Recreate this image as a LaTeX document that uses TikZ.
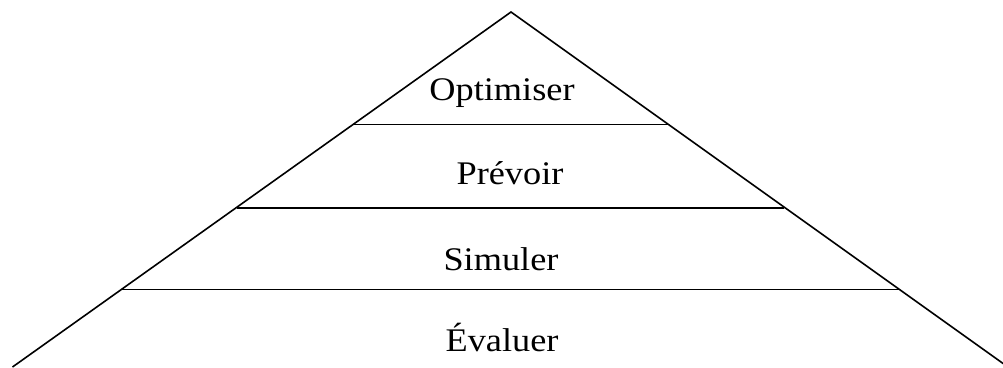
\documentclass[tikz,border=0pt]{standalone}
\usepackage{fontspec}
\setmainfont{Liberation Serif}
\begin{document}
\begin{tikzpicture}[x=1pt,y=-1pt,
  edge/.style={line width=1.6pt,line join=miter},
  label/.style={anchor=base,inner sep=0pt,xscale=1.1,font=\fontsize{33}{40}\selectfont}]
\useasboundingbox (0,0) rectangle (1003,367);
\clip (0,0) rectangle (1003,367);
\coordinate (apex) at (511,12);
\coordinate (bl) at (12.5,367);
\coordinate (br) at (1008,367);
\coordinate (l1) at (352,124.5); \coordinate (r1) at (669,124.5);
\coordinate (l2) at (237,207.7); \coordinate (r2) at (784,207.7);
\coordinate (l3) at (122,289.3); \coordinate (r3) at (899,289.3);
\draw[edge] (bl) -- (apex) -- (br);
\draw[edge] (l1) -- (r1);
\draw[edge] (l2) -- (r2);
\draw[edge] (l3) -- (r3);
\node[label] (opt) at (502,100) {Optimiser};
\node[label] (prev) at (510,184) {Prévoir};
\node[label] (sim) at (501,270) {Simuler};
\node[label] (eval) at (502,351) {Évaluer};
\end{tikzpicture}
\end{document}
